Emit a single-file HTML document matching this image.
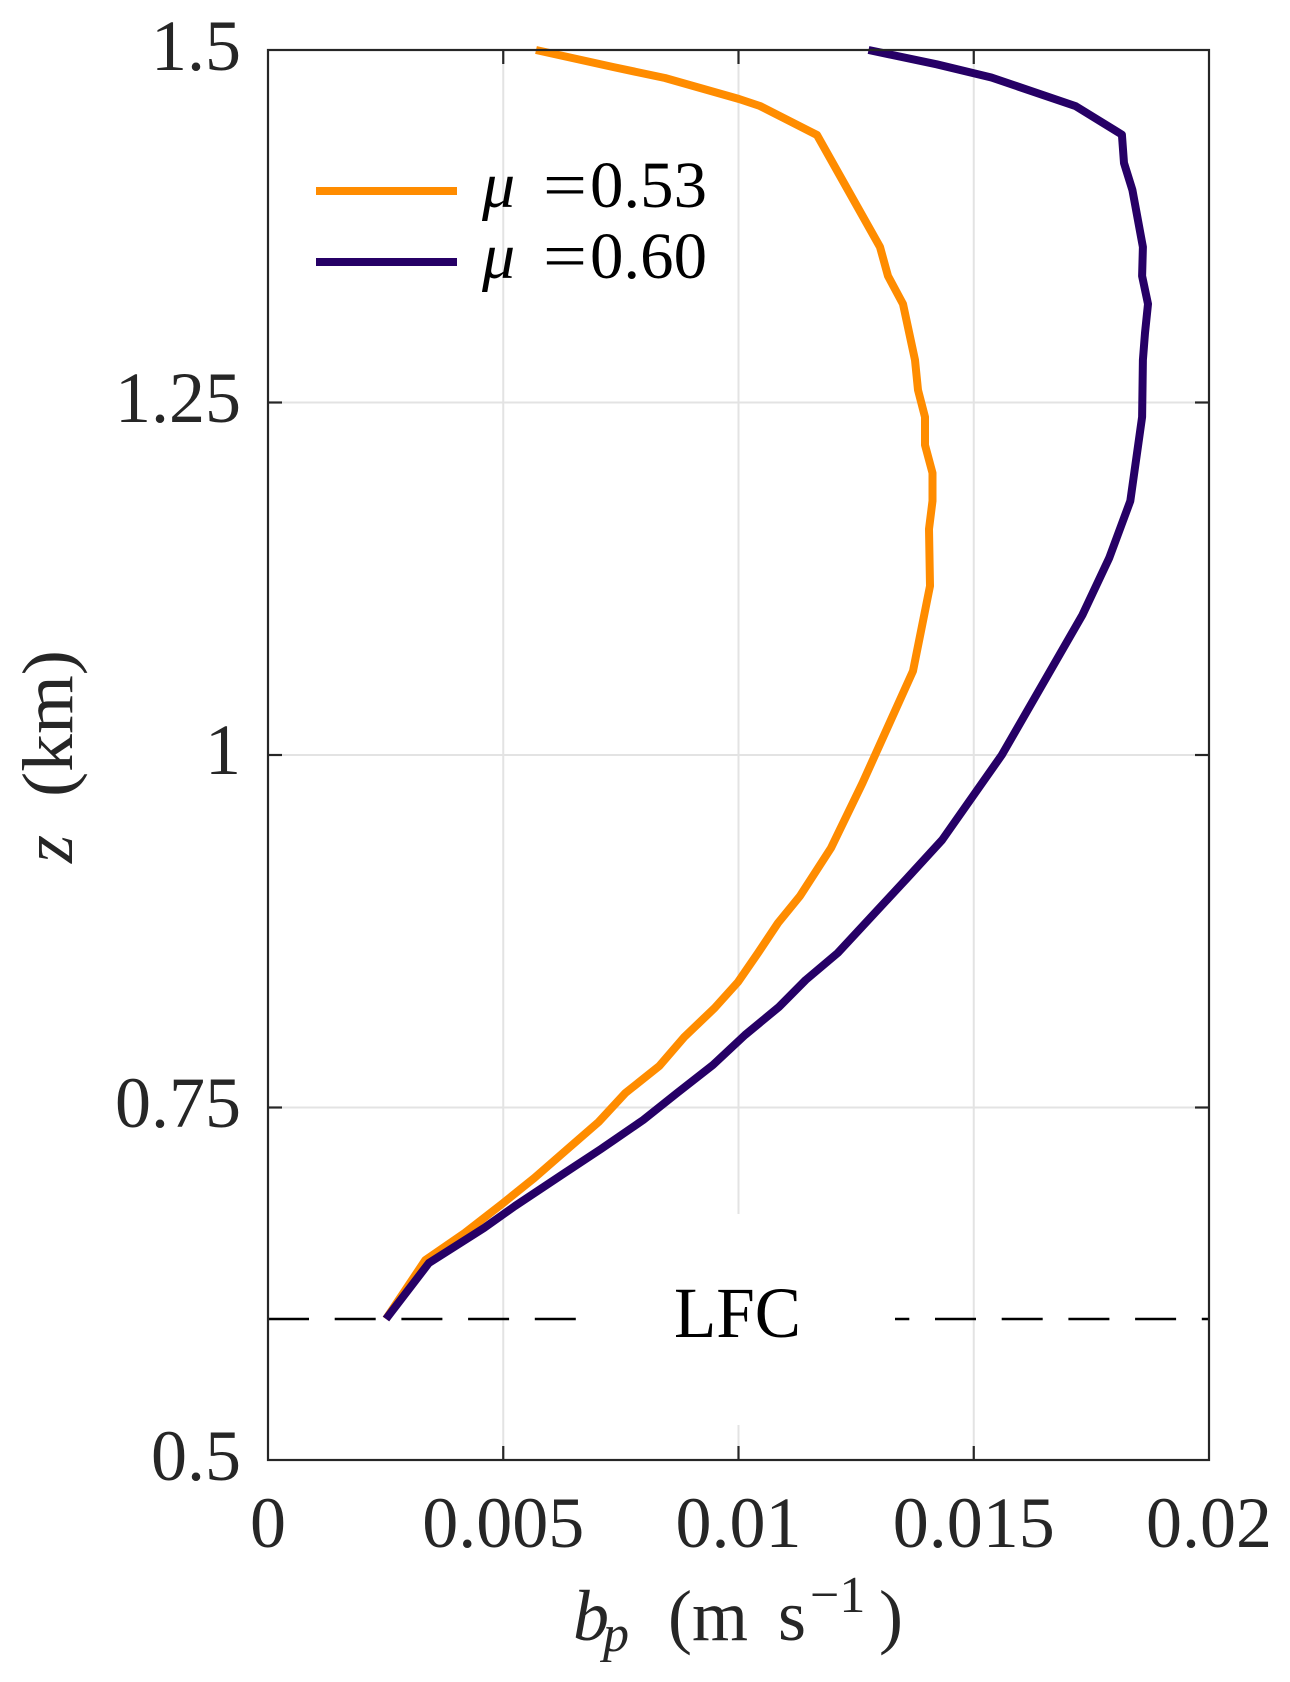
<!DOCTYPE html>
<html>
<head>
<meta charset="utf-8">
<style>
  html,body{margin:0;padding:0;background:#fff;}
  svg{display:block;}
  text{font-family:"Liberation Serif","DejaVu Serif",serif;}
</style>
</head>
<body>
<svg width="1290" height="1682" viewBox="0 0 1290 1682" xmlns="http://www.w3.org/2000/svg">
  <rect x="0" y="0" width="1290" height="1682" fill="#fff"/>

  <!-- grid -->
  <g stroke="#e3e3e3" stroke-width="2" fill="none">
    <line x1="503.25" y1="50" x2="503.25" y2="1460"/>
    <line x1="738.5" y1="50" x2="738.5" y2="1460"/>
    <line x1="973.75" y1="50" x2="973.75" y2="1460"/>
    <line x1="268" y1="402.5" x2="1209" y2="402.5"/>
    <line x1="268" y1="755" x2="1209" y2="755"/>
    <line x1="268" y1="1107.5" x2="1209" y2="1107.5"/>
  </g>

  <!-- LFC dashed line -->
  <line x1="268" y1="1319" x2="1209" y2="1319" stroke="#000" stroke-width="2.5" stroke-dasharray="41 25.7"/>
  <!-- LFC text box -->
  <rect x="577" y="1214" width="318" height="211" fill="#fff"/>
  <text x="737.5" y="1337" font-size="72" fill="#000" text-anchor="middle" textLength="127" lengthAdjust="spacingAndGlyphs">LFC</text>

  <!-- curves -->
  <polyline fill="none" stroke="#ff8c00" stroke-width="8" stroke-linejoin="round"
    points="536,50 613,67 665,78 739,99 760,106 817,135 880,247 888,276 903,304 915,360 918,390 925,417 925,445 932.5,473 932.5,501 929,529 930,586 913,671 862.5,783 831,848 800,896 778,923 758,953 738,982 714.6,1008 684.3,1037 659.3,1066 625.4,1093 598.6,1122 566.4,1150 534.3,1178 502,1204 464.6,1233 425.4,1260 386,1319"/>
  <polyline fill="none" stroke="#260066" stroke-width="8" stroke-linejoin="round"
    points="868.5,50 936.7,64.3 991.4,77.5 1075.6,106.1 1121.9,134.6 1124,163 1132.4,190 1142.9,247 1142.1,276 1148,304 1145,333 1142.9,360 1142.1,417 1130.3,501 1109.2,558 1082.4,615 1001.8,755 942.1,840 907.3,878 837.7,953 805.7,980 778.9,1007 745,1035 712.9,1065 677.1,1093 643.2,1120 601,1149 564.6,1173 515,1206 484,1228 428.9,1263 386,1319"/>

  <!-- axes box -->
  <rect x="268" y="50" width="941" height="1410" fill="none" stroke="#262626" stroke-width="2.2"/>

  <!-- ticks -->
  <g stroke="#262626" stroke-width="2.2">
    <line x1="268" y1="402.5" x2="282" y2="402.5"/>
    <line x1="268" y1="755" x2="282" y2="755"/>
    <line x1="268" y1="1107.5" x2="282" y2="1107.5"/>
    <line x1="1209" y1="402.5" x2="1195" y2="402.5"/>
    <line x1="1209" y1="755" x2="1195" y2="755"/>
    <line x1="1209" y1="1107.5" x2="1195" y2="1107.5"/>
    <line x1="503.25" y1="1460" x2="503.25" y2="1446"/>
    <line x1="738.5" y1="1460" x2="738.5" y2="1446"/>
    <line x1="973.75" y1="1460" x2="973.75" y2="1446"/>
    <line x1="503.25" y1="50" x2="503.25" y2="64"/>
    <line x1="738.5" y1="50" x2="738.5" y2="64"/>
    <line x1="973.75" y1="50" x2="973.75" y2="64"/>
  </g>

  <!-- y tick labels -->
  <g font-size="72" fill="#262626" text-anchor="end">
    <text x="241" y="70">1.5</text>
    <text x="241" y="422">1.25</text>
    <text x="241" y="774">1</text>
    <text x="241" y="1127">0.75</text>
    <text x="241" y="1480">0.5</text>
  </g>

  <!-- x tick labels -->
  <g font-size="72" fill="#262626" text-anchor="middle">
    <text x="268" y="1547">0</text>
    <text x="503.25" y="1547">0.005</text>
    <text x="738.5" y="1547">0.01</text>
    <text x="973.75" y="1547">0.015</text>
    <text x="1209" y="1547">0.02</text>
  </g>

  <!-- x label -->
  <g fill="#262626">
    <text x="573" y="1640" font-size="72" font-style="italic">b</text>
    <text x="603" y="1651" font-size="52" font-style="italic">p</text>
    <text x="668" y="1640" font-size="72">(m</text>
    <text x="778" y="1640" font-size="72">s</text>
    <text x="810" y="1612" font-size="52">−1</text>
    <text x="879" y="1640" font-size="72">)</text>
  </g>

  <!-- y label -->
  <g transform="translate(72,756) rotate(-90)" fill="#262626" font-size="72">
    <text x="-107" y="0" font-style="italic">z</text>
    <text x="-41" y="0" textLength="147" lengthAdjust="spacingAndGlyphs">(km)</text>
  </g>

  <!-- legend -->
  <line x1="316" y1="191" x2="457" y2="191" stroke="#ff8c00" stroke-width="8"/>
  <line x1="316" y1="262" x2="457" y2="262" stroke="#260066" stroke-width="8"/>
  <g font-size="66" fill="#000">
    <text x="482" y="207" font-style="italic">μ</text>
    <text x="543" y="207" textLength="44" lengthAdjust="spacingAndGlyphs">=</text>
    <text x="590" y="207" textLength="117" lengthAdjust="spacingAndGlyphs">0.53</text>
    <text x="482" y="278" font-style="italic">μ</text>
    <text x="543" y="278" textLength="44" lengthAdjust="spacingAndGlyphs">=</text>
    <text x="590" y="278" textLength="117" lengthAdjust="spacingAndGlyphs">0.60</text>
  </g>
</svg>
</body>
</html>
